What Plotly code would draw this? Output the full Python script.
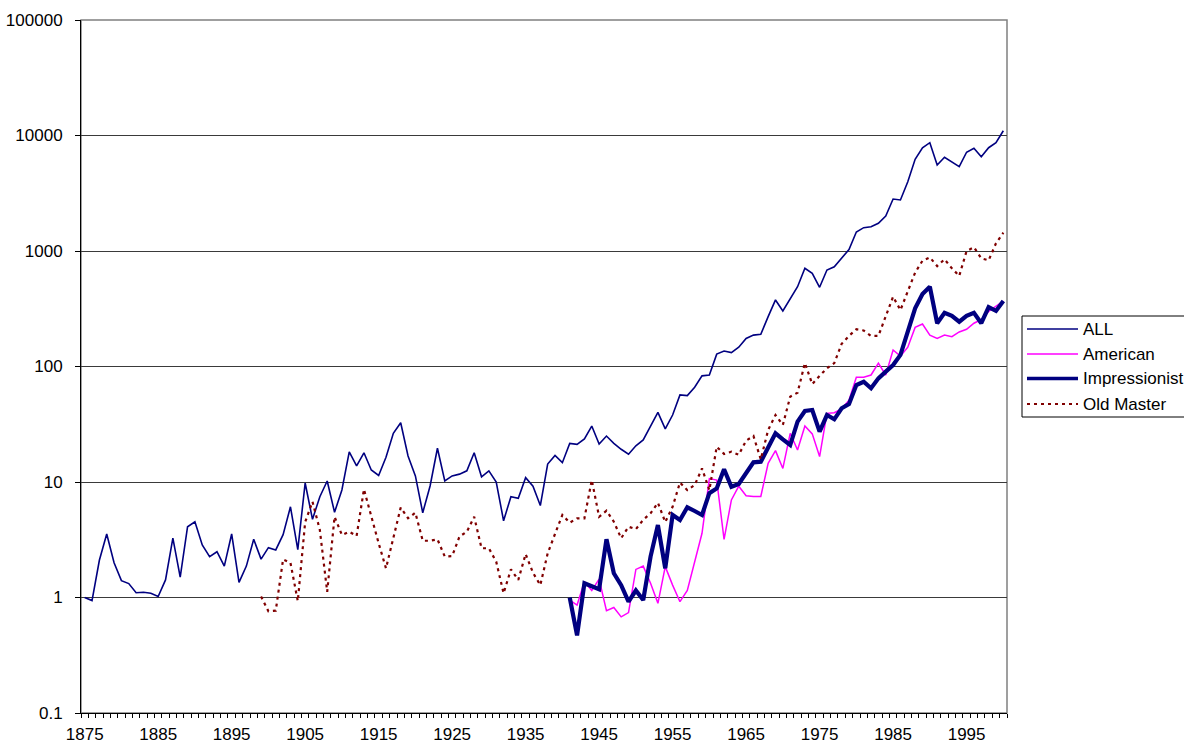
import plotly.graph_objects as go

# ---------------- data ----------------
years = list(range(1875, 2001))

all_values = [
    1.0, 0.94, 2.1, 3.55, 2.0, 1.4, 1.32, 1.1, 1.11, 1.09,          # 1875-1884
    1.02, 1.42, 3.26, 1.5, 4.1, 4.53, 2.85, 2.26, 2.49, 1.87,       # 1885-1894
    3.55, 1.35, 1.87, 3.19, 2.15, 2.7, 2.58, 3.5, 6.1, 2.6,         # 1895-1904
    9.8, 4.75, 7.46, 10.2, 5.47, 8.53, 18.2, 13.8, 17.9, 12.7,      # 1905-1914
    11.4, 16.4, 26.4, 32.6, 16.8, 11.3, 5.42, 9.23, 19.6, 10.2,     # 1915-1924
    11.3, 11.7, 12.5, 17.9, 11.1, 12.5, 10.0, 4.62, 7.46, 7.22,     # 1925-1934
    10.9, 9.2, 6.25, 14.3, 17.0, 14.7, 21.6, 21.2, 23.6, 30.5,      # 1935-1944
    21.3, 25.0, 21.6, 19.2, 17.4, 20.6, 23.1, 30.1, 40.1, 28.8,     # 1945-1954
    38.0, 56.7, 56.0, 66.1, 83.0, 84.4, 128, 136, 132, 147,         # 1955-1964
    175, 187, 190, 270, 377, 303, 390, 491, 708, 641,               # 1965-1974
    485, 684, 731, 860, 1030, 1460, 1592, 1624, 1738, 2010,         # 1975-1984
    2820, 2766, 3981, 6223, 7838, 8664, 5555, 6477, 5930, 5370,     # 1985-1994
    7160, 7750, 6550, 7838, 8664, 11000,                            # 1995-2000
]

old_master_start = 1899
old_master = [
    1.02, 0.76, 0.77, 2.14, 2.0, 0.93,                               # 1899-1904
    4.5, 6.75, 3.84, 1.12, 5.0, 3.48, 3.71, 3.41, 8.65, 4.95,        # 1905-1914
    2.95, 1.79, 3.37, 6.0, 4.85, 5.42, 3.1, 3.1, 3.19, 2.26,         # 1915-1924
    2.28, 3.37, 3.71, 5.0, 2.67, 2.67, 2.04, 1.09, 1.75, 1.42,       # 1925-1934
    2.38, 1.64, 1.28, 2.41, 3.55, 5.18, 4.44, 4.85, 4.85, 10.4,      # 1935-1944
    5.0, 5.64, 4.53, 3.26, 4.1, 3.9, 4.7, 5.36, 6.6, 4.5,            # 1945-1954
    6.1, 9.9, 8.5, 9.4, 13.1, 8.5, 20.2, 17.5, 18.3, 17.2,           # 1955-1964
    22.8, 25.0, 15.7, 28.2, 38.0, 31.2, 54.8, 59.3, 107, 70.5,       # 1965-1974
    83, 96.5, 107, 157, 184, 210, 205, 184, 184, 270,                # 1975-1984
    402, 308, 444, 649, 824, 881, 741, 848, 708, 608,                # 1985-1994
    1000, 1077, 864, 830, 1166, 1440,                                # 1995-2000
]

impressionist_start = 1941
impressionist = [
    1.0, 0.47, 1.33, 1.26,                                           # 1941-1944
    1.18, 3.19, 1.62, 1.28, 0.92, 1.15, 0.95, 2.26, 4.24, 1.79,      # 1945-1954
    5.18, 4.69, 6.04, 5.61, 5.18, 8.0, 8.8, 12.9, 9.1, 9.6,          # 1955-1964
    11.9, 14.8, 15.0, 19.6, 26.4, 23.4, 20.9, 33.3, 41.2, 42.0,      # 1965-1974
    27.3, 38.0, 34.9, 43.5, 47.4, 69.2, 73.8, 64.8, 79.0, 90.2,      # 1975-1984
    103, 126, 207, 319, 424, 491, 237, 292, 274, 244,                # 1985-1994
    274, 292, 237, 326, 303, 369,                                    # 1995-2000
]

american_start = 1941
american = [
    0.95, 0.86, 1.37, 1.15,                                          # 1941-1944
    1.44, 0.77, 0.82, 0.68, 0.74, 1.75, 1.87, 1.33, 0.89, 1.85,      # 1945-1954
    1.28, 0.92, 1.15, 2.04, 3.6, 10.7, 10.4, 3.19, 7.0, 9.2,         # 1955-1964
    7.6, 7.5, 7.5, 14.5, 18.7, 13.1, 26.4, 18.9, 30.5, 26.1,         # 1965-1974
    16.6, 39.3, 39.8, 43.0, 51.0, 80.6, 80.6, 84.4, 107, 84.4,       # 1975-1984
    139, 123, 147, 218, 233, 187, 175, 187, 181, 199,                # 1985-1994
    210, 237, 255, 300, 330, 369,                                    # 1995-2000
]

x_tick_years = list(range(1875, 2000, 10))
y_tick_vals = [0.1, 1, 10, 100, 1000, 10000, 100000]
y_tick_text = ["0.1", "1", "10", "100", "1000", "10000", "100000"]

series_names = ["ALL", "American", "Impressionist", "Old Master"]
series_colors = ["#000080", "#FF00FF", "#000080", "#800000"]
series_widths = [1.6, 1.5, 4.2, 2.2]
series_dash = ["solid", "solid", "solid", "3px,4px"]

# ---------------- figure ----------------
W, H = 1184, 747
ML, MR, MT, MB = 81, 177, 20, 34
FONT = "Liberation Sans, Arial, sans-serif"

def yrs(start, vals):
    return list(range(start, start + len(vals)))

data_sets = [
    (years, all_values),
    (yrs(american_start, american), american),
    (yrs(impressionist_start, impressionist), impressionist),
    (yrs(old_master_start, old_master), old_master),
]

fig = go.Figure()
for (xs, ys), name, col, w, d in zip(data_sets, series_names, series_colors,
                                      series_widths, series_dash):
    fig.add_trace(go.Scatter(x=xs, y=ys, mode="lines", name=name,
                             line=dict(color=col, width=w, dash=d),
                             showlegend=False))

fig.update_layout(
    width=W, height=H,
    margin=dict(l=ML, r=MR, t=MT, b=MB, pad=0, autoexpand=False),
    paper_bgcolor="white", plot_bgcolor="white",
    font=dict(family=FONT, size=16.5, color="black"),
    showlegend=False,
)

fig.update_xaxes(
    range=[1874.5, 2000.5], tickmode="array", tickvals=x_tick_years,
    ticktext=[str(v) for v in x_tick_years], ticks="", showgrid=False,
    showline=True, linecolor="black", linewidth=1, zeroline=False,
    ticklabelstandoff=6, automargin=False, tickfont=dict(size=17),
    minor=dict(tickmode="array", tickvals=[v + 0.5 for v in range(1874, 2001)],
               ticks="outside", ticklen=4, tickcolor="black", showgrid=False),
)
fig.update_yaxes(
    type="log", range=[-1, 5], tickmode="array", tickvals=y_tick_vals,
    ticktext=y_tick_text, ticks="outside", ticklen=5, tickcolor="black",
    showgrid=True, gridcolor="#3a3a3a", gridwidth=1,
    showline=True, linecolor="black", linewidth=1, zeroline=False,
    ticklabelstandoff=9, automargin=False, tickfont=dict(size=17),
)

# plot-area border (top / right, grey)
fig.add_shape(type="rect", xref="paper", yref="paper", x0=0, x1=1, y0=0, y1=1,
              line=dict(color="#808080", width=1.5), layer="below")

# ---------------- manual legend (partially cut off at right edge) ----------------
PW = W - ML - MR
PH = H - MT - MB

def px(xp):
    return (xp - ML) / PW

def py(yp):
    return (H - MB - yp) / PH

fig.add_shape(type="rect", xref="paper", yref="paper",
              x0=px(1022), x1=px(1200), y0=py(417), y1=py(316),
              line=dict(color="black", width=1), fillcolor="white")

legend_rows = [329, 354, 378.5, 404]
for name, col, w, d, yy in zip(series_names, series_colors, series_widths,
                               series_dash, legend_rows):
    fig.add_shape(type="line", xref="paper", yref="paper",
                  x0=px(1027), x1=px(1078), y0=py(yy), y1=py(yy),
                  line=dict(color=col, width=w if w < 4 else 3.5, dash=d))
    fig.add_annotation(xref="paper", yref="paper", x=px(1081), y=py(yy),
                       text=name, showarrow=False, xanchor="left",
                       yanchor="middle", font=dict(size=17, family=FONT),
                       align="left")

fig.write_html("out.html", config={"displayModeBar": False},
               post_script="document.body.style.margin='0';")
